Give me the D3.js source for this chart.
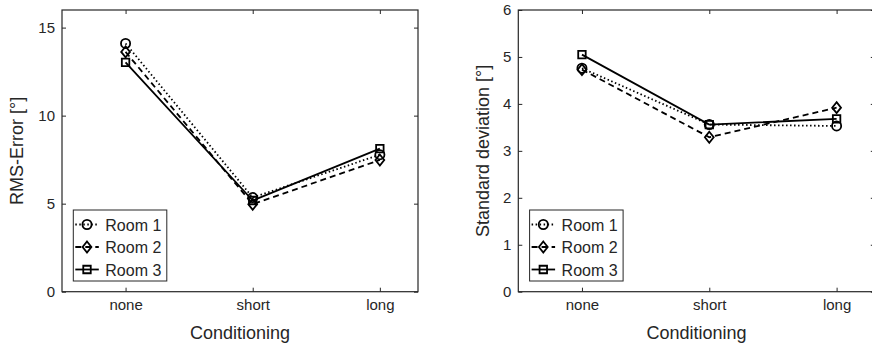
<!DOCTYPE html>
<html>
<head>
<meta charset="utf-8">
<script src="https://cdn.jsdelivr.net/npm/d3@7"></script>
<style>
  body { margin: 0; background: #fff; }
  text { font-family: "Liberation Sans", Arial, sans-serif; fill: #262626; }
</style>
</head>
<body>
<script>
// data
var conditions = ["none", "short", "long"];
var rooms = ["Room 1", "Room 2", "Room 3"];
var rmsError = [
  [14.1, 5.35, 7.78],
  [13.62, 4.97, 7.48],
  [13.02, 5.18, 8.13]
];
var stdDev = [
  [4.76, 3.56, 3.53],
  [4.73, 3.29, 3.92],
  [5.05, 3.56, 3.68]
];
var rmsTicks = [0, 5, 10, 15];
var sdTicks = [0, 1, 2, 3, 4, 5, 6];

var dashes = ["1.5,2.5", "6,4", null];

// matlab style diamond (a bit wider than d3's)
var matDiamond = {
  draw: function(ctx, size){
    var h = Math.sqrt(size) * 0.82, w = h * 0.8;
    ctx.moveTo(0, -h); ctx.lineTo(w, 0); ctx.lineTo(0, h); ctx.lineTo(-w, 0); ctx.closePath();
  }
};
var shapes = [d3.symbolCircle, matDiamond, d3.symbolSquare];
var sizes = [66, 45, 56];

var svg = d3.select("body").append("svg")
            .attr("width", 872)
            .attr("height", 346);

function panel(left, right, yMax, ticks, values, yLabel, labelOff){
  var top = 10, bottom = 291.7;
  var x = d3.scaleLinear().domain([0.5, 3.3]).range([left, right]);
  var y = d3.scaleLinear().domain([0, yMax]).range([bottom, top]);
  var g = svg.append("g");

  // box with inner ticks on all sides
  g.append("rect")
   .attr("x", left).attr("y", top)
   .attr("width", right - left).attr("height", bottom - top)
   .attr("fill", "none").attr("stroke", "#262626").attr("stroke-width", 1.2);

  var xTicks = [1, 2, 3];
  var ax = g.append("g").attr("transform", "translate(0," + bottom + ")")
            .call(d3.axisBottom(x).tickValues(xTicks)
                    .tickFormat(function(d){ return conditions[d - 1]; })
                    .tickSize(-4).tickPadding(8));
  var ay = g.append("g").attr("transform", "translate(" + left + ",0)")
            .call(d3.axisLeft(y).tickValues(ticks).tickFormat(d3.format("d"))
                    .tickSize(-4).tickPadding(7));
  var at = g.append("g").attr("transform", "translate(0," + top + ")")
            .call(d3.axisTop(x).tickValues(xTicks).tickFormat("").tickSize(-4));
  var ar = g.append("g").attr("transform", "translate(" + right + ",0)")
            .call(d3.axisRight(y).tickValues(ticks).tickFormat("").tickSize(-4));
  [ax, ay, at, ar].forEach(function(a){
    a.attr("font-size", null).attr("font-family", null);
    a.select(".domain").remove();
    a.selectAll("line").attr("stroke", "#262626");
    a.selectAll("text").style("font-size", "15px").attr("fill", "#262626");
  });

  g.append("text")
   .attr("x", (left + right) / 2).attr("y", 339)
   .attr("text-anchor", "middle").style("font-size", "18px")
   .text("Conditioning");

  g.append("text")
   .attr("transform", "translate(" + (left - labelOff) + "," + ((top + bottom) / 2) + ") rotate(-90)")
   .attr("text-anchor", "middle").style("font-size", "18px")
   .text(yLabel);

  var line = d3.line()
               .x(function(d, i){ return x(i + 1); })
               .y(function(d){ return y(d); });

  values.forEach(function(series, s){
    g.append("path")
     .attr("d", line(series))
     .attr("fill", "none")
     .attr("stroke", "#000")
     .attr("stroke-width", 1.8)
     .attr("stroke-dasharray", dashes[s]);
    g.selectAll(".m" + s)
     .data(series)
     .enter()
     .append("path")
     .attr("d", d3.symbol().type(shapes[s]).size(sizes[s]))
     .attr("transform", function(d, i){ return "translate(" + x(i + 1) + "," + y(d) + ")"; })
     .attr("fill", "none")
     .attr("stroke", "#000")
     .attr("stroke-width", 1.8);
  });

  // legend
  var lx = left + 11.3, ly = 210;
  var lg = g.append("g");
  lg.append("rect")
    .attr("x", lx).attr("y", ly).attr("width", 93.5).attr("height", 71)
    .attr("fill", "#fff").attr("stroke", "#262626").attr("stroke-width", 1);
  rooms.forEach(function(r, s){
    var cy = ly + 14.5 + s * 22.5;
    lg.append("line")
      .attr("x1", lx + 2).attr("x2", lx + 25.5)
      .attr("y1", cy).attr("y2", cy)
      .attr("stroke", "#000").attr("stroke-width", 1.8)
      .attr("stroke-dasharray", dashes[s]);
    lg.append("path")
      .attr("d", d3.symbol().type(shapes[s]).size(sizes[s]))
      .attr("transform", "translate(" + (lx + 13.7) + "," + cy + ")")
      .attr("fill", "none").attr("stroke", "#000").attr("stroke-width", 1.8);
    lg.append("text")
      .attr("x", lx + 32).attr("y", cy + 6.3)
      .style("font-size", "16px")
      .text(r);
  });
}

panel(62, 418, 16, rmsTicks, rmsError, "RMS-Error [°]", 39.5);
panel(518.3, 874.8, 6, sdTicks, stdDev, "Standard deviation [°]", 29.5);
</script>
</body>
</html>
